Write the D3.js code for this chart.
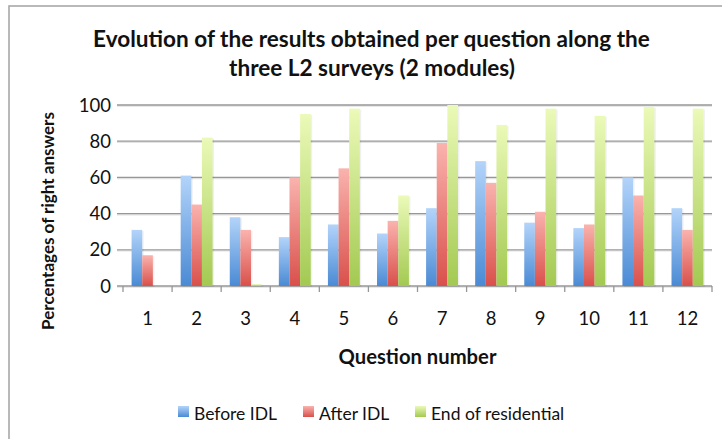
<!DOCTYPE html>
<html>
<head>
<meta charset="utf-8">
<script src="https://cdn.jsdelivr.net/npm/d3@7"></script>
<style>
  html, body { margin: 0; padding: 0; background: #fff; }
  svg { display: block; }
  text { font-family: Lato, "Open Sans", sans-serif; fill: #111; }
</style>
</head>
<body>
<svg id="chart" width="722" height="439"></svg>
<script>
const categories = ["1","2","3","4","5","6","7","8","9","10","11","12"];
const seriesNames = ["Before IDL", "After IDL", "End of residential"];
const beforeIDL = [31, 61, 38, 27, 34, 29, 43, 69, 35, 32, 60, 43];
const afterIDL  = [17, 45, 31, 60, 65, 36, 79, 57, 41, 34, 50, 31];
const endResidential = [0, 82, 1, 95, 98, 50, 100, 89, 98, 94, 99, 98];
const yTicks = [0, 20, 40, 60, 80, 100];
const titleLines = ["Evolution of the results obtained per question along the", "three L2 surveys (2 modules)"];
const xTitle = "Question number";
const yTitle = "Percentages of right answers";

const seriesValues = [beforeIDL, afterIDL, endResidential];
const colors = [
  {top: "#b3d4fa", bottom: "#4a8ad4", legend: "#5b9be3"},
  {top: "#fab3ae", bottom: "#d9504b", legend: "#e4706b"},
  {top: "#ebfab8", bottom: "#a3c951", legend: "#bfe07c"}
];

const svg = d3.select("#chart");
const defs = svg.append("defs");
colors.forEach((c, i) => {
  const g = defs.append("linearGradient").attr("id", "grad" + i)
    .attr("x1", 0).attr("y1", 0).attr("x2", 0).attr("y2", 1);
  g.append("stop").attr("offset", "0%").attr("stop-color", c.top);
  g.append("stop").attr("offset", "100%").attr("stop-color", c.bottom);
});

// outer frame
svg.append("rect").attr("x", 9).attr("y", 6).attr("width", 760).attr("height", 480)
  .attr("fill", "#fff").attr("stroke", "#a8a8a8").attr("stroke-width", 1.6);

const plot = {left: 123, right: 712, top: 105, bottom: 286};

const x = d3.scaleBand().domain(categories).range([plot.left, plot.right])
  .paddingInner(0.35).paddingOuter(0.175);
const xs = d3.scaleBand().domain(d3.range(seriesNames.length)).range([0, x.bandwidth()]);
const y = d3.scaleLinear().domain([0, 100]).range([plot.bottom, plot.top]);

function fit(sel, target) {
  const w = sel.node().getComputedTextLength();
  const fs = parseFloat(sel.attr("font-size"));
  sel.attr("font-size", fs * target / w);
}

// gridlines
const grid = svg.append("g");
yTicks.forEach(t => {
  grid.append("line").attr("x1", plot.left - 6).attr("x2", plot.right)
    .attr("y1", y(t) + 1.2).attr("y2", y(t) + 1.2)
    .attr("stroke", "#e2e2e2").attr("stroke-width", 1.2);
  grid.append("line").attr("x1", plot.left - 6).attr("x2", plot.right)
    .attr("y1", y(t)).attr("y2", y(t))
    .attr("stroke", "#979797").attr("stroke-width", 1.3);
});

// y tick labels
svg.append("g").selectAll("text").data(yTicks).join("text")
  .attr("x", 111).attr("y", d => y(d) + 6.5)
  .attr("text-anchor", "end").attr("font-size", 18.5).attr("fill", "#222")
  .text(d => d);

// x axis ticks at category boundaries
const step = x.step();
const startX = plot.left;
const bounds = d3.range(categories.length + 1).map(i => startX + i * step);
svg.append("g").selectAll("line").data(bounds).join("line")
  .attr("x1", d => d).attr("x2", d => d)
  .attr("y1", plot.bottom).attr("y2", plot.bottom + 6)
  .attr("stroke", "#979797").attr("stroke-width", 1.3);

// bars
seriesValues.forEach((vals, si) => {
  const g = svg.append("g");
  // faint shadow
  g.selectAll("rect.sh").data(vals).join("rect").attr("class", "sh")
    .attr("x", (d, i) => x(categories[i]) + xs(si) + 1.5)
    .attr("y", d => y(d) + 1)
    .attr("width", xs.bandwidth())
    .attr("height", d => Math.max(0, y(0) - y(d)))
    .attr("fill", "#000").attr("opacity", 0.06);
  g.selectAll("rect.bar").data(vals).join("rect").attr("class", "bar")
    .attr("x", (d, i) => x(categories[i]) + xs(si))
    .attr("y", d => y(d))
    .attr("width", xs.bandwidth())
    .attr("height", d => Math.max(0, y(0) - y(d)))
    .attr("fill", `url(#grad${si})`);
});

// x tick labels
svg.append("g").selectAll("text").data(categories).join("text")
  .attr("x", d => x(d) + x.bandwidth() / 2).attr("y", 325)
  .attr("text-anchor", "middle").attr("font-size", 18.5).attr("fill", "#222")
  .text(d => d);

// title
const t1 = svg.append("text").attr("x", 371.5).attr("y", 47).attr("text-anchor", "middle")
  .attr("font-weight", "bold").attr("font-size", 21).text(titleLines[0]);
fit(t1, 557);
const t2 = svg.append("text").attr("x", 372).attr("y", 76).attr("text-anchor", "middle")
  .attr("font-weight", "bold").attr("font-size", t1.attr("font-size")).text(titleLines[1]);

// axis titles
const xt = svg.append("text").attr("x", (plot.left + plot.right) / 2).attr("y", 364)
  .attr("text-anchor", "middle").attr("font-weight", "bold").attr("font-size", 16).text(xTitle);
fit(xt, 158);
const yt = svg.append("text").attr("transform", "translate(54,221) rotate(-90)")
  .attr("text-anchor", "middle").attr("font-weight", "bold").attr("font-size", 16).text(yTitle);
fit(yt, 218);

// legend
const legendX = [178, 303, 415];
const lg = svg.append("g");
seriesNames.forEach((name, i) => {
  lg.append("rect").attr("x", legendX[i]).attr("y", 406).attr("width", 11).attr("height", 11)
    .attr("fill", `url(#grad${i})`);
  const tx = lg.append("text").attr("x", legendX[i] + 16).attr("y", 420)
    .attr("font-size", 17.5).attr("fill", "#222").text(name);
});
</script>
</body>
</html>
